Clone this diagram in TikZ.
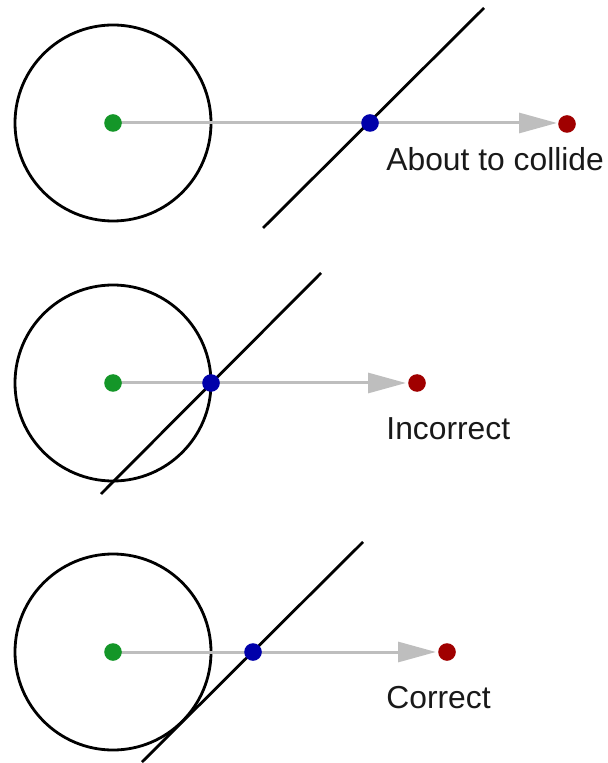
\documentclass[tikz,border=0pt]{standalone}
\usepackage{fontspec}
\setmainfont{Liberation Sans}
\usetikzlibrary{arrows.meta}

\definecolor{dotgreen}{RGB}{20,150,40}
\definecolor{dotblue}{RGB}{0,0,170}
\definecolor{dotred}{RGB}{160,0,0}
\definecolor{raygray}{RGB}{190,190,190}

\begin{document}
\begin{tikzpicture}[x=0.5pt, y=-0.5pt,
    ball/.style={draw, line width=1.4pt, circle, minimum size=98pt, inner sep=0pt},
    wall/.style={line width=1.4pt},
    dot/.style={circle, fill=#1, minimum size=8.8pt, inner sep=0pt},
    ray/.style={draw=raygray, line width=1.5pt, -{Triangle[length=19pt, width=10pt]}},
    lbl/.style={anchor=base west, inner sep=0pt, font=\fontsize{15.9}{19}\selectfont, text=black!90}
]
\useasboundingbox (0,0) rectangle (608,763);

% about to collide
\node[ball] (B1) at (113,123) {};
\coordinate (W1a) at (263,228);
\coordinate (W1b) at (484,8);
\draw[wall] (W1a) -- (W1b);
\coordinate (T1) at (557,123);
\draw[ray] (B1.center) -- (T1);
\node[dot=dotgreen] (C1) at (113,123) {};
\node[dot=dotblue] (H1) at (370,123) {};
\node[dot=dotred] (E1) at (567,124) {};
\node[lbl] (L1) at (386,171) {About to collide};

% incorrect
\node[ball] (B2) at (113,383) {};
\coordinate (W2a) at (101,494);
\coordinate (W2b) at (321,273);
\draw[wall] (W2a) -- (W2b);
\coordinate (T2) at (406,383);
\draw[ray] (B2.center) -- (T2);
\node[dot=dotgreen] (C2) at (113,383) {};
\node[dot=dotblue] (H2) at (211,383) {};
\node[dot=dotred] (E2) at (417,383) {};
\node[lbl] (L2) at (386,439) {Incorrect};

% correct
\node[ball] (B3) at (113,652) {};
\coordinate (W3a) at (142,762);
\coordinate (W3b) at (363,542);
\draw[wall] (W3a) -- (W3b);
\coordinate (T3) at (436,652);
\draw[ray] (B3.center) -- (T3);
\node[dot=dotgreen] (C3) at (113,652) {};
\node[dot=dotblue] (H3) at (253,652) {};
\node[dot=dotred] (E3) at (447,652) {};
\node[lbl] (L3) at (386,708) {Correct};
\end{tikzpicture}
\end{document}
